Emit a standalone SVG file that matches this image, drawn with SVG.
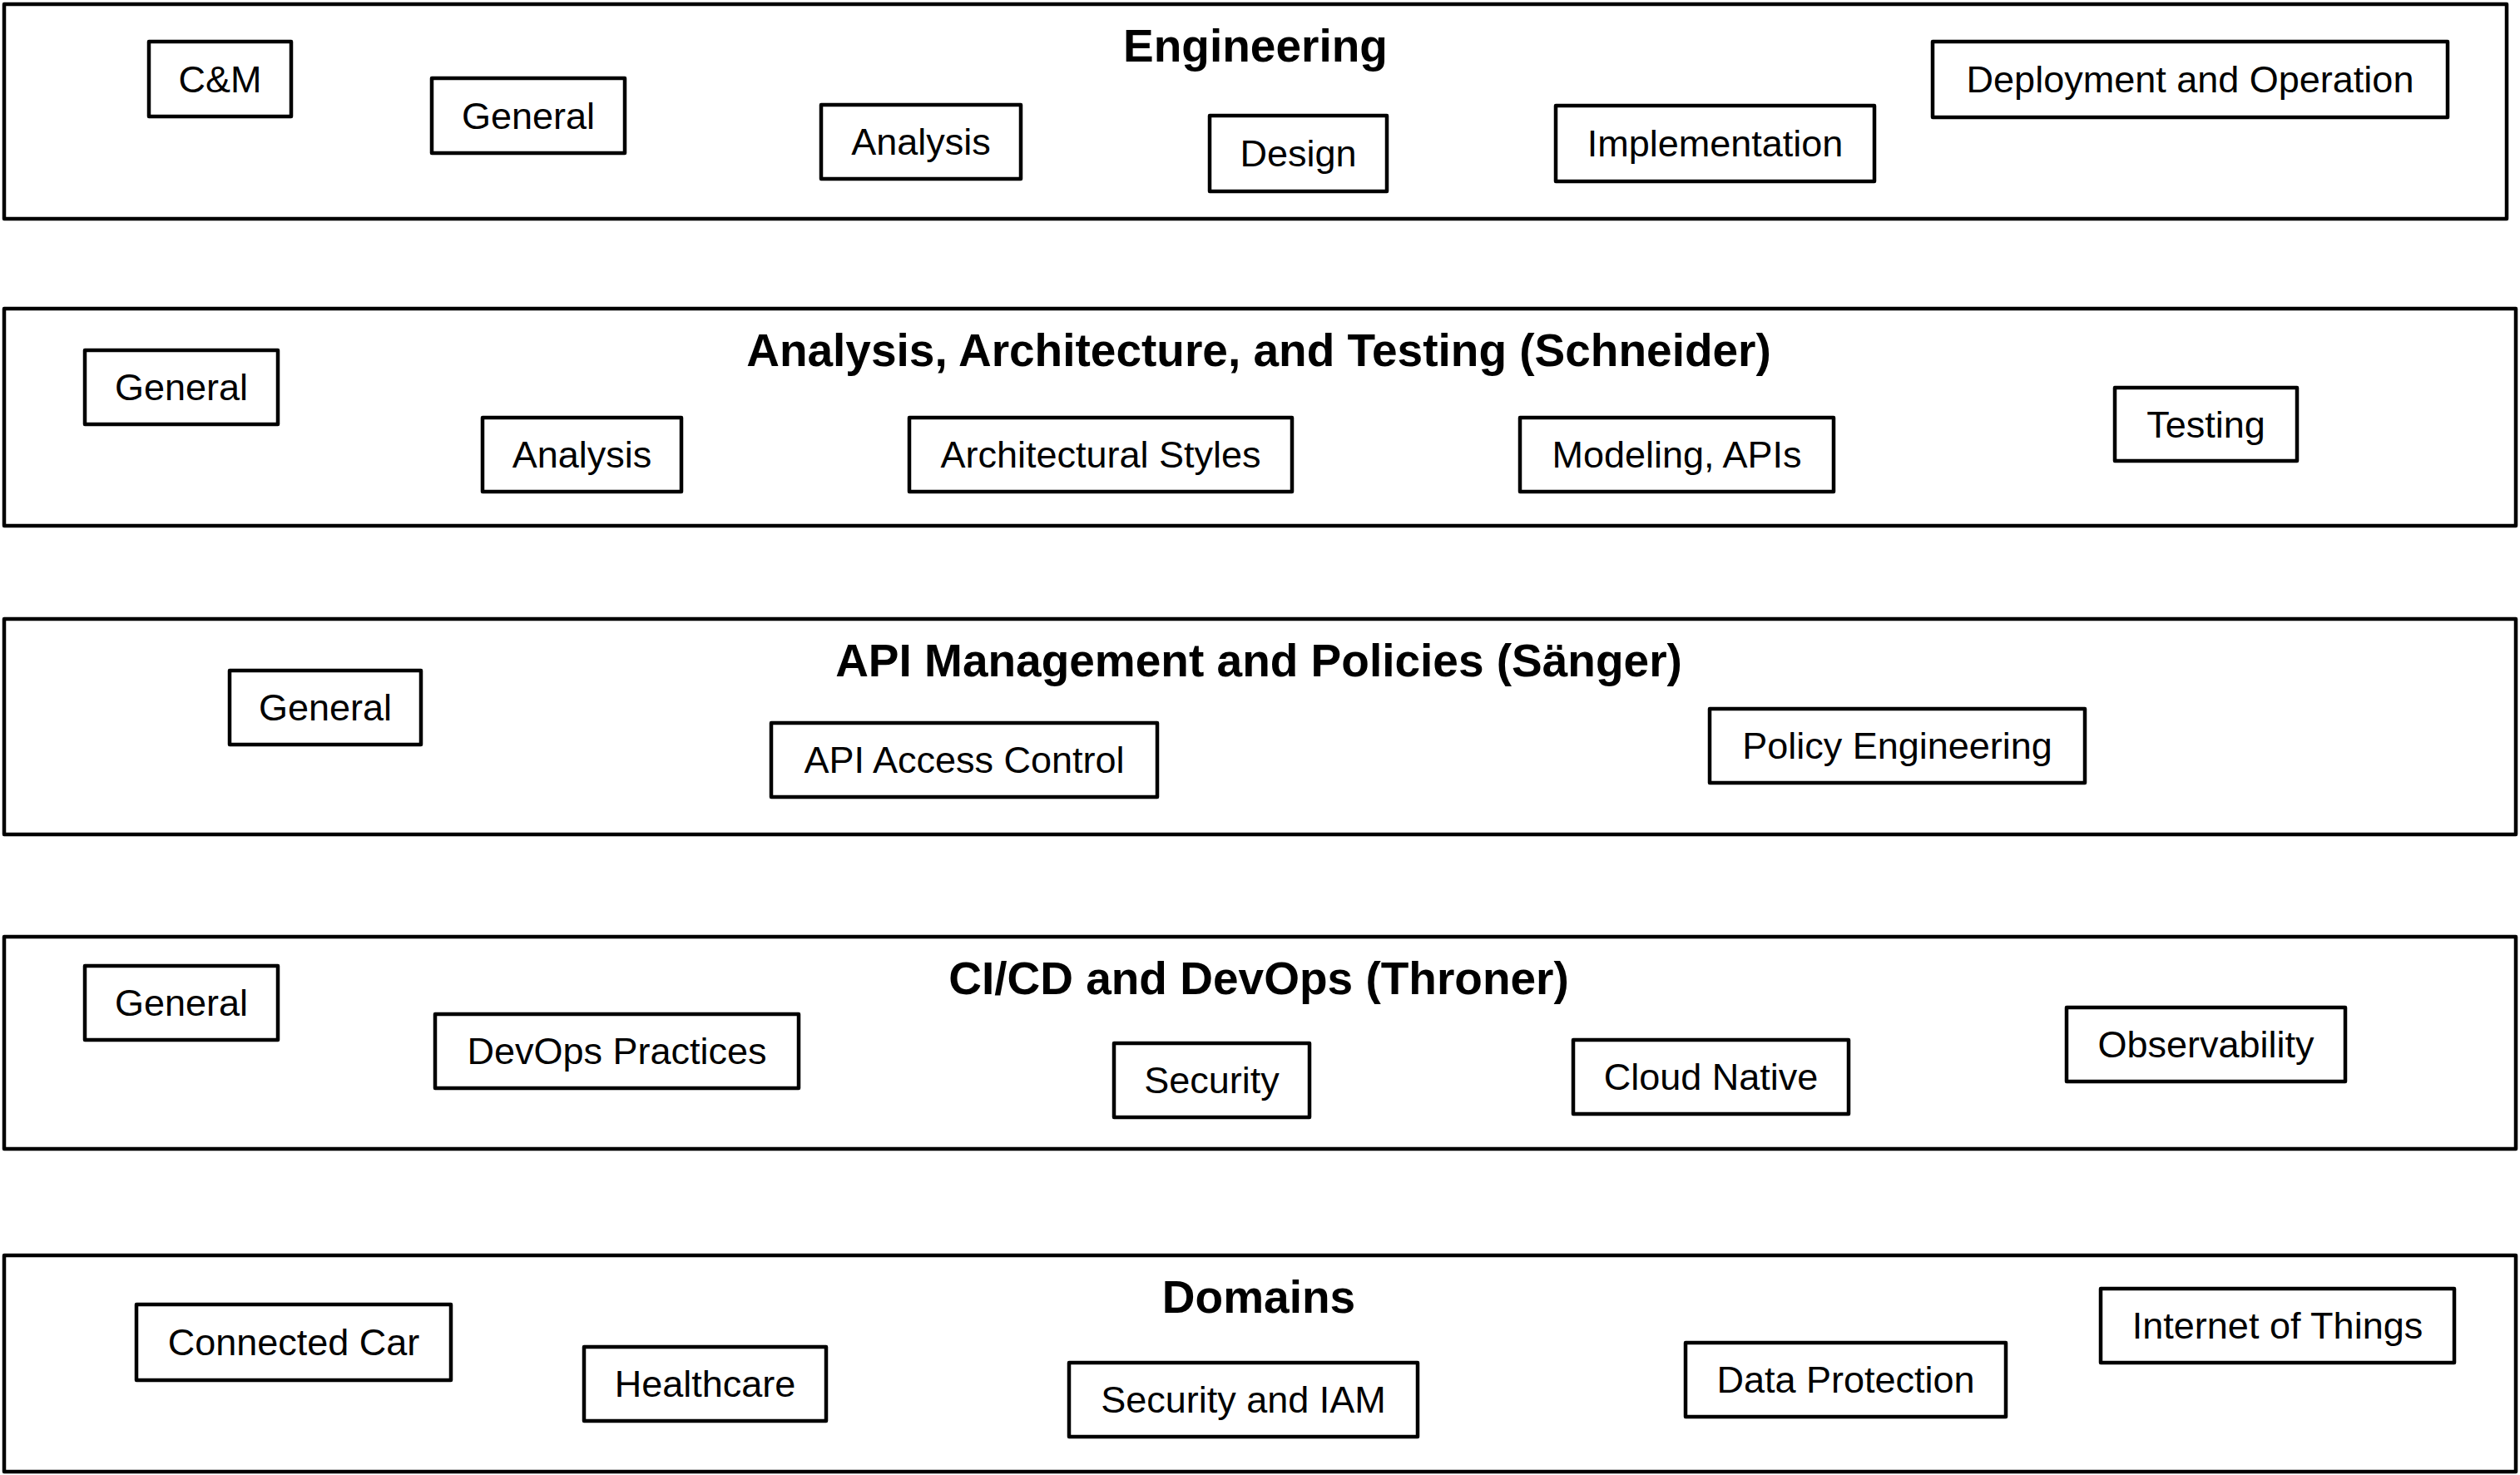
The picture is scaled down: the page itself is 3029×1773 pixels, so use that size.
<svg xmlns="http://www.w3.org/2000/svg" width="3029" height="1773" viewBox="0 0 3029 1773">
<style>
.band{fill:#fff;stroke:#000;stroke-width:4.5;stroke-linejoin:round}
.box{fill:#fff;stroke:#000;stroke-width:4.5;stroke-linejoin:round}
.title{font-family:"Liberation Sans",Arial,sans-serif;font-weight:bold;font-size:55px;text-anchor:middle;fill:#000}
.lbl{font-family:"Liberation Sans",Arial,sans-serif;font-size:45px;text-anchor:middle;fill:#000}
</style>
<rect width="3029" height="1773" fill="#fff"/>
<g id="band-engineering">
<rect class="band" x="5" y="5" width="3008" height="258"/>
<text class="title" x="1509" y="74">Engineering</text>
</g>
<g id="band-schneider">
<rect class="band" x="5" y="371" width="3019" height="261"/>
<text class="title" x="1513" y="440">Analysis, Architecture, and Testing (Schneider)</text>
</g>
<g id="band-saenger">
<rect class="band" x="5" y="744" width="3019" height="259"/>
<text class="title" x="1513" y="813">API Management and Policies (Sänger)</text>
</g>
<g id="band-throner">
<rect class="band" x="5" y="1126" width="3019" height="255"/>
<text class="title" x="1513" y="1195">CI/CD and DevOps (Throner)</text>
</g>
<g id="band-domains">
<rect class="band" x="5" y="1509" width="3019" height="260"/>
<text class="title" x="1513" y="1578">Domains</text>
</g>

<g id="eng-cm"><rect class="box" x="179" y="50" width="171" height="90"/><text class="lbl" x="264.5" y="111">C&amp;M</text></g>
<g id="eng-general"><rect class="box" x="519" y="94" width="232" height="90"/><text class="lbl" x="635" y="155">General</text></g>
<g id="eng-analysis"><rect class="box" x="987" y="126" width="240" height="89"/><text class="lbl" x="1107" y="186">Analysis</text></g>
<g id="eng-design"><rect class="box" x="1454" y="139" width="213" height="91"/><text class="lbl" x="1560.5" y="200">Design</text></g>
<g id="eng-implementation"><rect class="box" x="1870" y="127" width="383" height="91"/><text class="lbl" x="2061.5" y="188">Implementation</text></g>
<g id="eng-deployment"><rect class="box" x="2323" y="50" width="619" height="91"/><text class="lbl" x="2632.5" y="111">Deployment and Operation</text></g>

<g id="sch-general"><rect class="box" x="102" y="421" width="232" height="89"/><text class="lbl" x="218" y="481">General</text></g>
<g id="sch-analysis"><rect class="box" x="580" y="502" width="239" height="89"/><text class="lbl" x="699.5" y="562">Analysis</text></g>
<g id="sch-archstyles"><rect class="box" x="1093" y="502" width="460" height="89"/><text class="lbl" x="1323" y="562">Architectural Styles</text></g>
<g id="sch-modeling"><rect class="box" x="1827" y="502" width="377" height="89"/><text class="lbl" x="2015.5" y="562">Modeling, APIs</text></g>
<g id="sch-testing"><rect class="box" x="2542" y="466" width="219" height="88"/><text class="lbl" x="2651.5" y="526">Testing</text></g>

<g id="api-general"><rect class="box" x="276" y="806" width="230" height="89"/><text class="lbl" x="391" y="866">General</text></g>
<g id="api-access"><rect class="box" x="927" y="869" width="464" height="89"/><text class="lbl" x="1159" y="929">API Access Control</text></g>
<g id="api-policy"><rect class="box" x="2055" y="852" width="451" height="89"/><text class="lbl" x="2280.5" y="912">Policy Engineering</text></g>

<g id="ci-general"><rect class="box" x="102" y="1161" width="232" height="89"/><text class="lbl" x="218" y="1221">General</text></g>
<g id="ci-devops"><rect class="box" x="523" y="1219" width="437" height="89"/><text class="lbl" x="741.5" y="1279">DevOps Practices</text></g>
<g id="ci-security"><rect class="box" x="1339" y="1254" width="235" height="89"/><text class="lbl" x="1456.5" y="1314">Security</text></g>
<g id="ci-cloud"><rect class="box" x="1891" y="1250" width="331" height="89"/><text class="lbl" x="2056.5" y="1310">Cloud Native</text></g>
<g id="ci-observability"><rect class="box" x="2484" y="1211" width="335" height="89"/><text class="lbl" x="2651.5" y="1271">Observability</text></g>

<g id="dom-car"><rect class="box" x="164" y="1568" width="378" height="91"/><text class="lbl" x="353" y="1629">Connected Car</text></g>
<g id="dom-health"><rect class="box" x="702" y="1619" width="291" height="89"/><text class="lbl" x="847.5" y="1679">Healthcare</text></g>
<g id="dom-security"><rect class="box" x="1285" y="1638" width="419" height="89"/><text class="lbl" x="1494.5" y="1698">Security and IAM</text></g>
<g id="dom-data"><rect class="box" x="2026" y="1614" width="385" height="89"/><text class="lbl" x="2218.5" y="1674">Data Protection</text></g>
<g id="dom-iot"><rect class="box" x="2525" y="1549" width="425" height="89"/><text class="lbl" x="2737.5" y="1609">Internet of Things</text></g>

<g id="connectors"></g>
</svg>
